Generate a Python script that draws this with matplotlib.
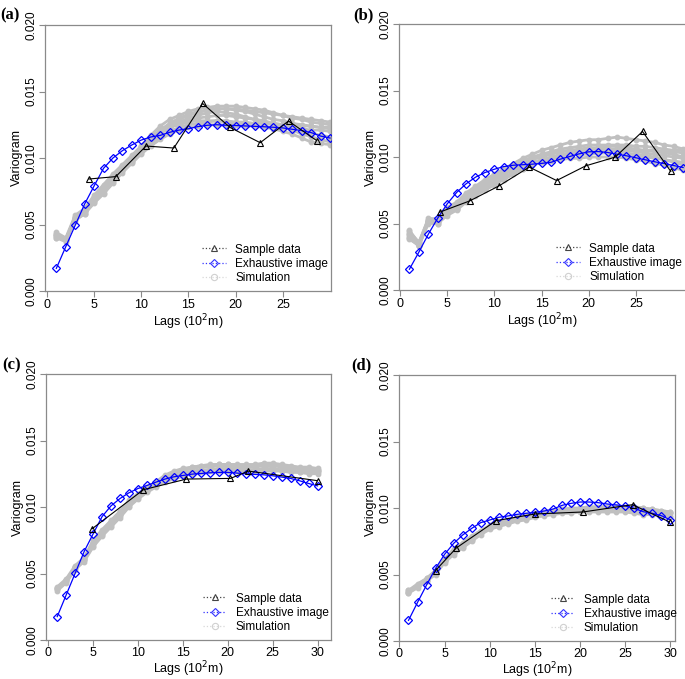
import numpy as np
import matplotlib.pyplot as plt
from matplotlib.lines import Line2D

plt.rcParams["font.family"] = ["Liberation Sans", "DejaVu Sans"]

lags = np.arange(1, 31)

# ---- panel (a) ----
exh_a = [1.70, 3.33, 4.94, 6.54, 7.90, 9.22, 10.00, 10.55, 10.98, 11.35,
         11.58, 11.70, 11.93, 12.10, 12.20, 12.36, 12.46, 12.50, 12.46, 12.44,
         12.41, 12.38, 12.35, 12.31, 12.26, 12.16, 12.06, 11.91, 11.65, 11.50]
smp_lag_a = [4.45, 7.3, 10.5, 13.45, 16.5, 19.4, 22.6, 25.6, 28.6]
smp_a = [8.42, 8.60, 10.90, 10.75, 14.10, 12.30, 11.15, 12.78, 11.30]
sim_a = [
    [4.3, 3.9, 5.6, 6.1, 7.1, 7.9, 8.7, 9.4, 10.1, 10.9, 11.7, 12.4, 12.9, 13.2, 13.5,
     13.7, 13.8, 13.9, 13.9, 13.9, 13.8, 13.7, 13.6, 13.4, 13.2, 13.1, 13.0, 12.9, 12.8, 12.7],
    [4.1, 3.8, 5.5, 6.0, 7.0, 7.8, 8.6, 9.3, 10.0, 10.8, 11.5, 12.1, 12.6, 13.0, 13.3,
     13.5, 13.6, 13.7, 13.7, 13.6, 13.5, 13.3, 13.1, 12.9, 12.8, 12.6, 12.5, 12.4, 12.3, 12.3],
    [4.0, 3.7, 5.4, 5.9, 6.8, 7.6, 8.4, 9.1, 9.8, 10.5, 11.2, 11.8, 12.3, 12.7, 13.0,
     13.2, 13.4, 13.5, 13.4, 13.3, 13.1, 12.9, 12.7, 12.5, 12.3, 12.1, 11.8, 11.6, 11.4, 11.2],
    [4.2, 3.9, 5.5, 6.0, 6.9, 7.7, 8.5, 9.2, 9.9, 10.6, 11.3, 11.9, 12.3, 12.6, 12.8,
     13.0, 13.1, 13.2, 13.2, 13.1, 13.0, 12.9, 12.8, 12.6, 12.5, 12.3, 12.1, 11.9, 11.7, 11.6],
    [4.4, 4.0, 5.7, 6.2, 7.2, 8.0, 8.8, 9.5, 10.2, 10.9, 11.5, 12.0, 12.3, 12.5, 12.7,
     12.8, 12.8, 12.8, 12.7, 12.6, 12.5, 12.4, 12.3, 12.2, 12.0, 11.8, 11.5, 11.2, 11.1, 11.0],
    [4.0, 3.8, 5.3, 5.8, 6.6, 7.3, 8.1, 8.9, 9.6, 10.3, 10.9, 11.4, 11.8, 12.1, 12.3,
     12.4, 12.5, 12.5, 12.5, 12.5, 12.4, 12.4, 12.4, 12.3, 12.3, 12.2, 12.2, 12.1, 12.1, 12.0],
    [4.1, 3.8, 5.6, 6.0, 7.0, 7.8, 8.5, 9.3, 10.0, 10.7, 11.4, 12.0, 12.5, 12.9, 13.2,
     13.4, 13.6, 13.7, 13.7, 13.7, 13.6, 13.5, 13.4, 13.3, 13.2, 13.0, 12.9, 12.7, 12.6, 12.5],
    [4.3, 3.9, 5.4, 5.8, 6.7, 7.4, 8.2, 9.0, 9.7, 10.4, 11.1, 11.6, 12.0, 12.3, 12.5,
     12.6, 12.7, 12.8, 12.8, 12.7, 12.7, 12.6, 12.6, 12.6, 12.5, 12.5, 12.4, 12.4, 12.3, 12.2],
]

# ---- panel (b) ----
exh_b = [1.56, 2.84, 4.19, 5.40, 6.47, 7.33, 7.98, 8.48, 8.83, 9.08,
         9.28, 9.38, 9.42, 9.46, 9.52, 9.60, 9.84, 10.04, 10.24, 10.39,
         10.41, 10.34, 10.21, 10.09, 9.94, 9.79, 9.64, 9.51, 9.36, 9.21]
smp_lag_b = [4.2, 7.4, 10.5, 13.7, 16.6, 19.7, 22.8, 25.7, 28.7]
smp_b = [5.85, 6.70, 7.83, 9.24, 8.23, 9.34, 9.99, 11.92, 8.91]
sim_b = [
    [4.5, 3.5, 5.4, 5.3, 6.2, 6.6, 7.3, 7.8, 8.3, 8.7, 9.1, 9.5, 9.9, 10.2, 10.5,
     10.7, 10.9, 11.1, 11.2, 11.3, 11.3, 11.4, 11.5, 11.4, 11.3, 11.2, 11.1, 10.9, 10.8, 10.6],
    [4.3, 3.4, 5.3, 5.2, 6.0, 6.4, 7.1, 7.6, 8.1, 8.5, 8.9, 9.3, 9.7, 10.0, 10.2,
     10.4, 10.6, 10.7, 10.8, 10.9, 10.9, 10.9, 10.9, 10.9, 10.8, 10.8, 10.7, 10.6, 10.5, 10.5],
    [4.1, 3.3, 5.1, 5.1, 5.9, 6.2, 6.9, 7.4, 7.9, 8.3, 8.7, 9.1, 9.5, 9.8, 10.0,
     10.2, 10.4, 10.5, 10.6, 10.7, 10.7, 10.8, 10.8, 10.7, 10.6, 10.5, 10.4, 10.3, 10.2, 10.0],
    [3.9, 3.3, 5.0, 5.0, 5.7, 6.1, 6.7, 7.2, 7.6, 8.0, 8.4, 8.8, 9.2, 9.5, 9.7,
     9.9, 10.1, 10.2, 10.3, 10.4, 10.4, 10.4, 10.4, 10.3, 10.2, 10.1, 10.0, 9.8, 9.6, 9.4],
    [3.8, 3.4, 5.2, 5.1, 5.8, 6.1, 6.8, 7.2, 7.7, 8.1, 8.5, 8.8, 9.1, 9.4, 9.6,
     9.7, 9.8, 9.9, 9.9, 10.0, 10.0, 10.0, 10.0, 9.9, 9.8, 9.7, 9.5, 9.4, 9.2, 9.0],
    [4.4, 3.6, 5.3, 5.4, 6.1, 6.5, 7.0, 7.5, 8.0, 8.4, 8.8, 9.2, 9.6, 9.9, 10.1,
     10.3, 10.4, 10.5, 10.5, 10.6, 10.6, 10.6, 10.6, 10.6, 10.5, 10.5, 10.5, 10.4, 10.4, 10.3],
    [4.0, 3.3, 5.1, 5.2, 5.9, 6.3, 6.9, 7.4, 7.9, 8.3, 8.7, 9.0, 9.3, 9.6, 9.8,
     10.0, 10.2, 10.3, 10.4, 10.5, 10.5, 10.5, 10.5, 10.5, 10.4, 10.3, 10.2, 10.1, 10.0, 9.9],
    [4.2, 3.5, 5.2, 5.0, 5.6, 6.0, 6.6, 7.1, 7.5, 7.9, 8.3, 8.7, 9.1, 9.4, 9.6,
     9.8, 10.0, 10.1, 10.2, 10.2, 10.3, 10.3, 10.3, 10.2, 10.1, 10.0, 9.9, 9.8, 9.7, 9.6],
]

# ---- panel (c) ----
exh_c = [1.76, 3.39, 5.02, 6.65, 7.98, 9.28, 10.09, 10.64, 11.07, 11.39,
         11.62, 11.87, 12.10, 12.27, 12.37, 12.47, 12.52, 12.57, 12.60, 12.60,
         12.55, 12.50, 12.45, 12.42, 12.35, 12.25, 12.15, 11.97, 11.77, 11.59]
smp_lag_c = [4.9, 10.6, 15.4, 20.3, 22.3, 30.0]
smp_c = [8.37, 11.30, 12.10, 12.15, 12.70, 11.98]
sim_c = [
    [4.0, 4.6, 5.6, 6.2, 7.5, 8.3, 9.0, 9.7, 10.5, 11.0, 11.5, 11.9, 12.4, 12.7, 12.9,
     13.0, 13.1, 13.2, 13.2, 13.2, 13.2, 13.2, 13.2, 13.3, 13.3, 13.2, 13.1, 13.0, 13.0, 12.9],
    [3.9, 4.5, 5.5, 6.1, 7.4, 8.2, 8.9, 9.6, 10.4, 10.9, 11.4, 11.8, 12.2, 12.5, 12.7,
     12.9, 13.0, 13.0, 13.1, 13.1, 13.0, 13.0, 13.0, 13.1, 13.1, 13.0, 12.9, 12.9, 12.8, 12.8],
    [3.8, 4.4, 5.4, 6.0, 7.2, 8.0, 8.7, 9.4, 10.2, 10.8, 11.3, 11.7, 12.1, 12.3, 12.5,
     12.7, 12.8, 12.8, 12.9, 12.9, 12.9, 12.8, 12.8, 12.8, 12.8, 12.7, 12.7, 12.6, 12.5, 12.5],
    [3.7, 4.3, 5.3, 5.9, 7.0, 7.8, 8.5, 9.2, 10.0, 10.6, 11.1, 11.5, 11.9, 12.1, 12.3,
     12.5, 12.6, 12.7, 12.7, 12.7, 12.7, 12.7, 12.7, 12.7, 12.7, 12.7, 12.6, 12.6, 12.6, 12.6],
    [3.9, 4.5, 5.5, 6.1, 7.3, 8.1, 8.8, 9.5, 10.3, 10.9, 11.4, 11.8, 12.3, 12.6, 12.8,
     13.0, 13.1, 13.1, 13.2, 13.2, 13.1, 13.1, 13.1, 13.2, 13.2, 13.1, 13.0, 12.9, 12.9, 12.8],
    [3.8, 4.4, 5.4, 6.0, 7.1, 7.9, 8.6, 9.3, 10.1, 10.7, 11.2, 11.6, 12.0, 12.3, 12.5,
     12.6, 12.7, 12.8, 12.8, 12.8, 12.8, 12.8, 12.8, 12.9, 12.9, 12.8, 12.8, 12.7, 12.7, 12.7],
]

# ---- panel (d) ----
exh_d = [1.55, 2.90, 4.21, 5.46, 6.52, 7.34, 7.97, 8.47, 8.90, 9.10,
         9.30, 9.40, 9.52, 9.60, 9.67, 9.77, 9.92, 10.20, 10.35, 10.45,
         10.45, 10.40, 10.30, 10.23, 10.15, 9.97, 9.72, 9.60, 9.42, 9.10]
smp_lag_d = [4.0, 6.3, 10.7, 15.0, 20.3, 25.8, 29.9]
smp_d = [5.30, 7.00, 9.05, 9.55, 9.70, 10.25, 8.95]
sim_d = [
    [3.8, 4.3, 4.7, 5.3, 6.2, 6.9, 7.4, 7.9, 8.3, 8.7, 8.9, 9.1, 9.3, 9.5, 9.6,
     9.7, 9.8, 9.9, 10.0, 10.0, 10.1, 10.1, 10.1, 10.1, 10.1, 10.1, 10.0, 9.9, 9.8, 9.7],
    [3.7, 4.2, 4.6, 5.2, 6.1, 6.8, 7.3, 7.8, 8.2, 8.6, 8.8, 9.0, 9.2, 9.4, 9.5,
     9.6, 9.7, 9.8, 9.9, 9.9, 10.0, 10.0, 10.0, 10.0, 10.0, 9.9, 9.9, 9.8, 9.7, 9.6],
    [3.6, 4.1, 4.5, 5.1, 6.0, 6.6, 7.1, 7.6, 8.1, 8.5, 8.7, 8.9, 9.1, 9.2, 9.4,
     9.5, 9.6, 9.7, 9.7, 9.8, 9.8, 9.8, 9.8, 9.8, 9.8, 9.7, 9.7, 9.6, 9.5, 9.4],
    [3.6, 4.0, 4.5, 5.0, 5.9, 6.5, 7.0, 7.5, 8.0, 8.4, 8.6, 8.8, 9.0, 9.1, 9.3,
     9.4, 9.5, 9.6, 9.6, 9.7, 9.7, 9.7, 9.7, 9.7, 9.7, 9.6, 9.5, 9.5, 9.4, 9.3],
    [3.7, 4.2, 4.6, 5.2, 6.0, 6.7, 7.2, 7.7, 8.2, 8.6, 8.8, 9.0, 9.2, 9.3, 9.5,
     9.6, 9.7, 9.8, 9.8, 9.9, 9.9, 9.9, 9.9, 9.9, 9.9, 9.8, 9.8, 9.7, 9.6, 9.6],
    [3.8, 4.2, 4.7, 5.3, 6.1, 6.8, 7.3, 7.8, 8.3, 8.6, 8.9, 9.1, 9.2, 9.4, 9.5,
     9.7, 9.8, 9.9, 9.9, 10.0, 10.0, 10.0, 10.0, 10.1, 10.0, 10.0, 10.0, 9.9, 9.8, 9.7],
]

yticks = [0.000, 0.005, 0.010, 0.015, 0.020]
ytick_labels = ["0.000", "0.005", "0.010", "0.015", "0.020"]

GRAY = "#c0c0c0"
FRAME = "#8a8a8a"

panels = [
    # label, rect, xlim, xticks, exhaustive, sample lags, sample, sims, label pos, bottom row
    ("(a)", [45 / 685, 388 / 679, 286 / 685, 266 / 679], (-0.2, 30.1), [0, 5, 10, 15, 20, 25],
     exh_a, smp_lag_a, smp_a, sim_a, (0.0, 0.978), False),
    ("(b)", [399 / 685, 389 / 679, 286 / 685, 266 / 679], (-0.1, 30.2), [0, 5, 10, 15, 20, 25],
     exh_b, smp_lag_b, smp_b, sim_b, (0.515, 0.978), False),
    ("(c)", [46 / 685, 39 / 679, 285 / 685, 266 / 679], (-0.25, 31.5), [0, 5, 10, 15, 20, 25, 30],
     exh_c, smp_lag_c, smp_c, sim_c, (0.003, 0.462), True),
    ("(d)", [399 / 685, 38 / 679, 276 / 685, 266 / 679], (-0.05, 30.5), [0, 5, 10, 15, 20, 25, 30],
     exh_d, smp_lag_d, smp_d, sim_d, (0.513, 0.462), True),
]

fig = plt.figure(figsize=(6.85, 6.79), dpi=100)

legend_handles = [
    Line2D([], [], color="#444444", ls=":", lw=0.9, marker="^", mfc="none", mec="#444444", ms=5, mew=0.8),
    Line2D([], [], color="#3333ff", ls=":", lw=0.9, marker="D", mfc="none", mec="#3333ff", ms=4.5, mew=0.8),
    Line2D([], [], color="#d8d8d8", ls=":", lw=0.9, marker="o", mfc="none", mec="#d0d0d0", ms=4.5, mew=0.8),
]
legend_labels = ["Sample data", "Exhaustive image", "Simulation"]

for label, rect, xlim, xticks, exh, slag, smp, sims, lpos, bottom in panels:
    ax = fig.add_axes(rect)
    for s in sims:
        ax.plot(lags, np.array(s) * 1e-3, color=GRAY, lw=2.0, marker="o", ms=3.2, zorder=1)
    ax.plot(lags, np.array(exh) * 1e-3, color="#0000ff", lw=0.9, marker="D", ms=4.2,
            mfc="none", mec="#0000ff", mew=0.9, zorder=3)
    ax.plot(slag, np.array(smp) * 1e-3, color="black", lw=0.8, marker="^", ms=4.5,
            mfc="none", mec="black", mew=0.8, zorder=4)

    ax.set_xlim(*xlim)
    ax.set_ylim(0, 0.020)
    ax.set_xticks(xticks)
    ax.set_xticklabels([str(t) for t in xticks], fontsize=9)
    ax.set_yticks(yticks)
    ax.set_yticklabels(ytick_labels, fontsize=8.5, rotation=90, va="center")
    ax.tick_params(direction="out", length=4, width=0.8, color=FRAME, pad=1.5)
    ax.tick_params(axis="x", pad=1.0 if bottom else 1.5)
    for sp in ax.spines.values():
        sp.set_color(FRAME)
        sp.set_linewidth(0.9)
    if label == "(b)":
        ax.spines["right"].set_visible(False)

    ax.set_xlabel("Lags (10$^2$m)", fontsize=9, labelpad=0.5 if bottom else 1)
    ax.set_ylabel("Variogram", fontsize=9, labelpad=2)

    ax.legend(legend_handles, legend_labels, loc="lower left", bbox_to_anchor=(0.55, 0.025),
              frameon=False, fontsize=8.5, handlelength=2.0, handletextpad=0.8,
              labelspacing=0.2, borderpad=0, borderaxespad=0)

    fig.text(lpos[0], lpos[1], label, fontsize=12, fontweight="bold",
             family="Liberation Serif", ha="left", va="center")

fig.savefig("out.png", dpi=100)
